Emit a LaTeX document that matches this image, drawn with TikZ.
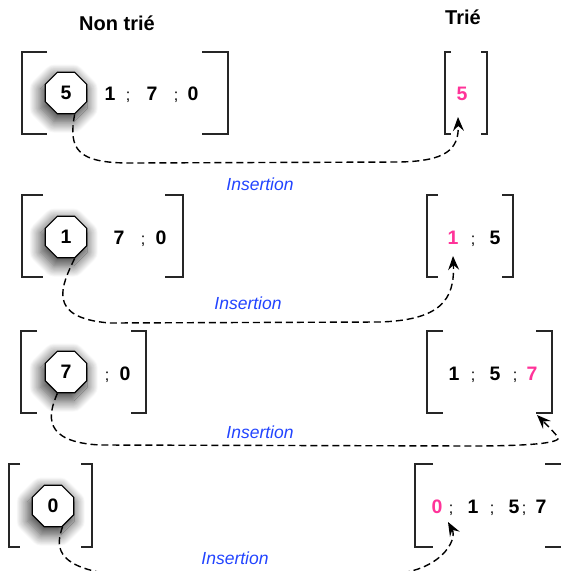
\documentclass[tikz,border=0pt]{standalone}
\usepackage{fontspec}
\setmainfont{Liberation Sans}
\usetikzlibrary{shapes.geometric,arrows.meta,shadows.blur}
\definecolor{sortpink}{RGB}{255,51,153}
\definecolor{insblue}{RGB}{34,68,255}
\tikzset{
  key/.style={regular polygon, regular polygon sides=8, minimum size=45pt,
    inner sep=0pt, draw, line width=1.2pt, fill=white,
    font=\fontsize{19.5}{22}\selectfont\bfseries,
    blur shadow={shadow xshift=-2pt, shadow yshift=-5pt, shadow scale=1.12,
      shadow blur radius=10pt, shadow blur steps=20, shadow opacity=75}},
  num/.style={font=\fontsize{19.5}{22}\selectfont\bfseries, inner sep=0pt, anchor=base},
  semi/.style={font=\fontsize{16}{18}\selectfont, inner sep=0pt, anchor=base},
  hot/.style={num, text=sortpink},
  head/.style={font=\fontsize{20}{22}\selectfont\bfseries, inner sep=0pt, anchor=base},
  lbl/.style={font=\fontsize{17.5}{19}\selectfont\itshape, text=insblue, inner sep=0pt},
  brk/.style={line width=1.5pt, draw=black!85},
  ins/.style={dash pattern=on 7pt off 4pt, line width=1.4pt,
    -{Stealth[length=14pt,width=11pt,inset=5pt]}},
}
% a pair of square brackets: left x, left tick end, right x, right tick start, top y, bottom y
\newcommand\bracketpair[6]{%
  \draw[brk] (#2,#5) -- (#1,#5) -- (#1,#6) -- (#2,#6);
  \draw[brk] (#4,#5) -- (#3,#5) -- (#3,#6) -- (#4,#6);}

\begin{document}
\begin{tikzpicture}[x=1pt,y=-1pt]
\useasboundingbox (0,0) rectangle (561,571);
\clip (0,0) rectangle (561,571);

% column headings
\node[head] (hU) at (117,30) {Non trié};
\node[head] (hS) at (463,24) {Trié};

% ---- step 1
\bracketpair{22}{47}{228}{202}{52}{134}
\node[key] (o1) at (66,93) {5};
\node[num] (u11) at (110,100) {1};
\node[semi] (s11) at (128,100) {;};
\node[num] (u12) at (152,100) {7};
\node[semi] (s12) at (176,100) {;};
\node[num] (u13) at (193,100) {0};
\bracketpair{445}{451}{487}{481}{52}{134}
\node[hot] (t1) at (462,100) {5};
\coordinate (t1e) at (458,117);
\draw[ins] (o1.-68) .. controls (68,150) and (78,163) .. (130,163)
  -- (400,162) .. controls (445,161) and (459,150) .. (t1e);
\node[lbl] (i1) at (260,184) {Insertion};

% ---- step 2
\bracketpair{22}{43}{183}{165}{195}{277}
\node[key] (o2) at (66,237) {1};
\node[num] (u21) at (119,244) {7};
\node[semi] (s21) at (143,244) {;};
\node[num] (u22) at (161,244) {0};
\bracketpair{427}{438}{513}{502}{195}{277}
\node[hot] (t2) at (453,244) {1};
\node[semi] (s22) at (473,244) {;};
\node[num] (v21) at (495,244) {5};
\coordinate (t2e) at (453,256);
\draw[ins] (o2.-68) .. controls (62,285) and (45,318) .. (110,323)
  -- (380,322) .. controls (440,320) and (455,300) .. (t2e);
\node[lbl] (i2) at (248,303) {Insertion};

% ---- step 3
\bracketpair{21}{37}{146}{131}{331}{413}
\node[key] (o3) at (66,372) {7};
\node[semi] (s31) at (107,380) {;};
\node[num] (u31) at (125,380) {0};
\bracketpair{427}{443}{552}{536}{331}{413}
\node[num] (v31) at (454,380) {1};
\node[semi] (s32) at (473,380) {;};
\node[num] (v32) at (495,380) {5};
\node[semi] (s33) at (515,380) {;};
\node[hot] (t3) at (532,380) {7};
\coordinate (t3e) at (537,415);
\draw[ins] (o3.-112) .. controls (48,415) and (42,442) .. (100,445)
  -- (470,446) .. controls (530,446) and (566,443) .. (557,436)
  .. controls (552,430) and (545,423) .. (t3e);
\node[lbl] (i3) at (260,432) {Insertion};

% ---- step 4
\bracketpair{9}{20}{92}{81}{464}{547}
\node[key] (o4) at (53,506) {0};
\bracketpair{415}{433}{567}{545}{464}{547}
\node[hot] (t4) at (437,513) {0};
\node[semi] (s41) at (451,513) {;};
\node[num] (v41) at (473,513) {1};
\node[semi] (s42) at (492,513) {;};
\node[num] (v42) at (514,513) {5};
\node[semi] (s43) at (524,513) {;};
\node[num] (v43) at (541,513) {7};
\coordinate (t4e) at (448,522);
\draw[ins] (o4.-65) .. controls (56,545) and (54,566) .. (110,574)
  -- (390,574) .. controls (440,572) and (458,540) .. (t4e);
\node[lbl] (i4) at (235,558) {Insertion};
\end{tikzpicture}
\end{document}
